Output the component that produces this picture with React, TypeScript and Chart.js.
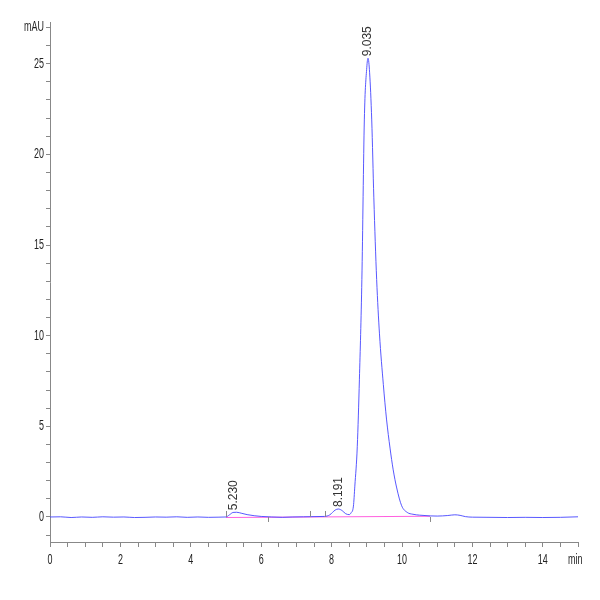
import React, { useEffect, useRef } from "react";
import { Chart, registerables } from "chart.js";

Chart.register(...registerables);

// Chromatogram trace (time in min, absorbance in mAU)
const times = [
  0.0, 0.3, 0.6, 0.9, 1.2, 1.5, 1.8, 2.1, 2.4, 2.7, 3.0, 3.3, 3.6, 3.9, 4.2, 4.5, 4.8,
  5.0, 5.1, 5.2, 5.3, 5.45, 5.6, 5.8, 6.0, 6.3, 6.6, 6.9, 7.2, 7.5, 7.8,
  7.95, 8.1, 8.19, 8.3, 8.4, 8.5, 8.55, 8.62, 8.66, 8.73, 8.79, 8.86, 8.93, 9.0, 9.035,
  9.08, 9.14, 9.2, 9.28, 9.36, 9.47, 9.56, 9.66, 9.75, 9.85, 9.99, 10.15, 10.31, 10.5,
  10.8, 11.0, 11.3, 11.5, 11.65, 11.8, 12.0, 12.5, 13.0, 13.5, 14.0, 14.5, 15.0,
];
const signal = [
  0.0, 0.01, -0.03, 0.0, -0.02, 0.01, -0.01, 0.0, -0.03, -0.02, 0.0, -0.01, 0.01, -0.02, 0.0, -0.02, -0.01,
  0.0, 0.12, 0.25, 0.26, 0.2, 0.13, 0.07, 0.03, 0.0, -0.02, 0.0, 0.01, 0.02, 0.03,
  0.12, 0.38, 0.44, 0.35, 0.18, 0.13, 0.22, 0.6, 1.7, 3.9, 7.6, 13.1, 21.9, 24.8, 25.3,
  24.5, 21.9, 17.6, 13.1, 10.1, 7.3, 5.4, 3.8, 2.6, 1.6, 0.62, 0.25, 0.15, 0.1,
  0.06, 0.05, 0.08, 0.12, 0.09, 0.02, -0.01, -0.02, -0.03, -0.02, -0.03, -0.02, 0.01,
];

// Integration baseline (pink)
const baselineTimes = [5.0, 10.8];
const baselineValues = [-0.03, 0.04];

// Peak annotations
const peakTimes = [5.23, 8.191, 9.035];
const peakHeights = [0.26, 0.44, 25.3];
const peakLabels = ["5.230", "8.191", "9.035"];

// Peak start/end markers
const markerTimes = [5.0, 6.2, 7.4, 7.82, 10.8];
const markerUp = [true, false, true, true, false];

// Axis ticks
const xTickValues = [
  0, 0.5, 1, 1.5, 2, 2.5, 3, 3.5, 4, 4.5, 5, 5.5, 6, 6.5, 7, 7.5, 8, 8.5, 9, 9.5,
  10, 10.5, 11, 11.5, 12, 12.5, 13, 13.5, 14, 14.5, 15,
];
const xLabelValues = [0, 2, 4, 6, 8, 10, 12, 14];
const xUnitLabel = "min";
const yTickValues = [
  -1, 0, 1, 2, 3, 4, 5, 6, 7, 8, 9, 10, 11, 12, 13, 14, 15, 16, 17, 18, 19, 20, 21, 22, 23, 24, 25, 26, 27,
];
const yLabelValues = [0, 5, 10, 15, 20, 25];
const yUnitLabel = "mAU";
const yUnitValue = 27;

const FONT = "'Liberation Sans', Arial, sans-serif";

function narrowText(ctx: any, text: string, x: number, y: number, align: "left" | "right" | "center") {
  const sx = 0.64;
  ctx.save();
  ctx.translate(x, y);
  ctx.scale(sx, 1);
  ctx.textAlign = align;
  ctx.fillText(text, 0, 0);
  ctx.restore();
}

const annotationPlugin = {
  id: "chromAnnotations",
  afterDraw(chart: any) {
    const { ctx, scales } = chart;
    const x = scales.x;
    const y = scales.y;
    ctx.save();
    // peak start / end markers
    ctx.strokeStyle = "#8a8a8a";
    ctx.lineWidth = 1;
    markerTimes.forEach((t, i) => {
      const px = Math.round(x.getPixelForValue(t)) + 0.5;
      const py = y.getPixelForValue(0);
      ctx.beginPath();
      ctx.moveTo(px, py);
      ctx.lineTo(px, markerUp[i] ? py - 6 : py + 5);
      ctx.stroke();
    });
    // peak labels
    ctx.fillStyle = "#333";
    ctx.font = `12px ${FONT}`;
    ctx.textAlign = "left";
    ctx.textBaseline = "middle";
    peakTimes.forEach((t, i) => {
      const px = x.getPixelForValue(t);
      const py = y.getPixelForValue(peakHeights[i]) - 2;
      ctx.save();
      ctx.translate(px, py);
      ctx.rotate(-Math.PI / 2);
      ctx.fillText(peakLabels[i], 0, 0);
      ctx.restore();
    });
    // axis labels (narrow)
    ctx.font = `14px ${FONT}`;
    ctx.fillStyle = "#222";
    ctx.textBaseline = "middle";
    const axisY = y.bottom;
    xLabelValues.forEach((v) => {
      narrowText(ctx, String(v), x.getPixelForValue(v), axisY + 18, "center");
    });
    narrowText(ctx, xUnitLabel, x.getPixelForValue(15) - 10, axisY + 18, "left");
    const axisX = x.left;
    yLabelValues.forEach((v) => {
      narrowText(ctx, String(v), axisX - 6, y.getPixelForValue(v), "right");
    });
    narrowText(ctx, yUnitLabel, axisX - 6, y.getPixelForValue(yUnitValue), "right");
    ctx.restore();
  },
};

export default function App() {
  const canvasRef = useRef<HTMLCanvasElement | null>(null);

  useEffect(() => {
    if (!canvasRef.current) return;
    const chart = new Chart(canvasRef.current, {
      type: "line",
      data: {
        datasets: [
          {
            label: "signal",
            data: times.map((t, i) => ({ x: t, y: signal[i] })),
            borderColor: "rgba(70,70,255,0.9)",
            borderWidth: 1,
            pointRadius: 0,
            cubicInterpolationMode: "monotone",
            fill: false,
            order: 1,
          },
          {
            label: "baseline",
            data: baselineTimes.map((t, i) => ({ x: t, y: baselineValues[i] })),
            borderColor: "rgba(255,80,220,0.9)",
            borderWidth: 1.2,
            pointRadius: 0,
            fill: false,
            order: 2,
          },
        ],
      },
      options: {
        animation: false,
        responsive: false,
        maintainAspectRatio: false,
        layout: { padding: { top: 22, right: 22, left: 0, bottom: 0 } },
        plugins: {
          legend: { display: false },
          tooltip: { enabled: false },
        },
        scales: {
          x: {
            type: "linear",
            min: 0,
            max: 15,
            afterBuildTicks: (scale: any) => {
              scale.ticks = xTickValues.map((v) => ({ value: v }));
            },
            afterFit: (scale: any) => {
              scale.height = 58;
            },
            ticks: {
              autoSkip: false,
              maxRotation: 0,
              callback: () => "",
            },
            grid: {
              display: true,
              drawOnChartArea: false,
              drawTicks: true,
              tickLength: 5,
              color: "#888",
            },
            border: { display: true, color: "#888", width: 1 },
          },
          y: {
            type: "linear",
            min: -1.38,
            max: 27.3,
            afterBuildTicks: (scale: any) => {
              scale.ticks = yTickValues.map((v) => ({ value: v }));
            },
            afterFit: (scale: any) => {
              scale.width = 50;
            },
            ticks: {
              autoSkip: false,
              callback: () => "",
            },
            grid: {
              display: true,
              drawOnChartArea: false,
              drawTicks: true,
              tickLength: 4,
              color: "#888",
            },
            border: { display: true, color: "#888", width: 1 },
          },
        },
      },
      plugins: [annotationPlugin],
    } as any);
    return () => chart.destroy();
  }, []);

  return (
    <div style={{ position: "fixed", left: 0, top: 0, width: 600, height: 600, background: "#fff" }}>
      <canvas ref={canvasRef} width={600} height={600} style={{ width: 600, height: 600 }} />
    </div>
  );
}
